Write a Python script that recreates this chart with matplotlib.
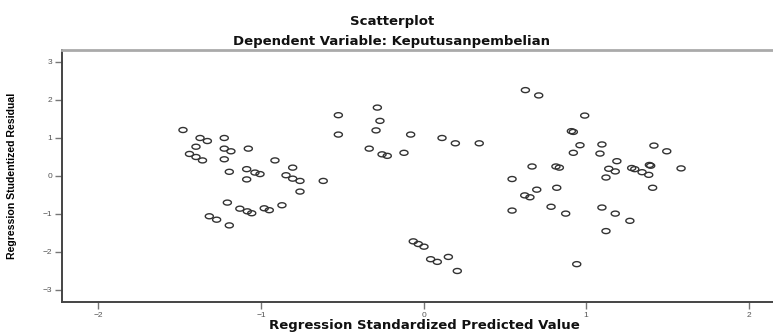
import numpy as np
import matplotlib.pyplot as plt

plt.rcParams['font.family'] = ['Liberation Sans', 'DejaVu Sans']

# predicted value (x) and studentized residual (y)
pred = [-1.48, -1.375, -1.33, -1.226, -1.40, -1.226, -1.185, -1.078, -1.44, -1.40,
        -1.36, -1.226, -0.914, -1.195, -1.088, -1.037, -1.006, -0.805, -0.846, -0.805,
        -0.76, -0.617, -1.088, -0.76, -0.524, -0.524,
        -1.207, -1.13, -1.084, -1.057, -0.98, -0.949, -0.871, -1.318, -1.273, -1.195,
        -0.284, -0.268, -0.292, -0.079, 0.114, 0.196, 0.343, -0.334, -0.255, -0.223, -0.12,
        -0.063, -0.032, 0.003, 0.044, 0.085, 0.153, 0.208,
        0.627, 0.709, 0.992, 0.922, 0.91, 0.963, 1.098, 1.418, 1.497, 0.922,
        1.086, 1.19, 0.668, 0.815, 0.836, 1.14, 1.18, 1.123, 1.281, 1.30,
        1.345, 1.39, 1.398, 1.386, 1.41, 1.585, 0.545, 0.697, 0.82, 0.623,
        0.655, 0.545, 0.785, 0.875, 1.098, 1.18, 1.27, 1.123, 0.943]
resid = [1.21, 1.0, 0.92, 1.0, 0.77, 0.72, 0.65, 0.72, 0.58, 0.50,
         0.41, 0.44, 0.41, 0.11, 0.18, 0.09, 0.05, 0.22, 0.02, -0.07,
         -0.13, -0.13, -0.09, -0.41, 1.6, 1.09,
         -0.70, -0.86, -0.93, -0.98, -0.85, -0.90, -0.77, -1.06, -1.15, -1.30,
         1.80, 1.45, 1.20, 1.09, 1.0, 0.86, 0.86, 0.72, 0.57, 0.53, 0.61,
         -1.72, -1.79, -1.86, -2.19, -2.26, -2.13, -2.50,
         2.26, 2.12, 1.59, 1.16, 1.18, 0.81, 0.83, 0.80, 0.65, 0.61,
         0.59, 0.39, 0.25, 0.25, 0.22, 0.19, 0.12, -0.04, 0.21, 0.18,
         0.10, 0.29, 0.27, 0.03, -0.31, 0.20, -0.08, -0.36, -0.31, -0.51,
         -0.56, -0.91, -0.81, -0.99, -0.83, -0.99, -1.18, -1.45, -2.32]

xticks = [-2, -1, 0, 1, 2]
yticks = [-3, -2, -1, 0, 1, 2, 3]

# flattened ring, the source image is squashed vertically
t = np.linspace(0, 2*np.pi, 40)
ring = np.column_stack([np.cos(t), 0.62*np.sin(t)])

fig = plt.figure(figsize=(7.73, 3.33), dpi=100)
ax = fig.add_axes([0.0802, 0.0931, 0.9224, 0.7568])

ax.scatter(pred, resid, marker=ring, s=34, facecolors='none',
           edgecolors='#333333', linewidths=1.0)

ax.set_xlim(-2.2246, 2.163)
ax.set_ylim(-3.316, 3.316)
ax.set_xticks(xticks)
ax.set_yticks(yticks)
ax.tick_params(length=5, width=1, color='#777777', labelsize=6, labelcolor='#555555', pad=2)

for s in ['left', 'bottom']:
    ax.spines[s].set_color('#444444')
    ax.spines[s].set_linewidth(1.4)
ax.spines['top'].set_color('#aaaaaa')
ax.spines['top'].set_linewidth(2)
ax.spines['right'].set_visible(False)

wide = ['DejaVu Sans']
fig.text(0.507, 0.934, 'Scatterplot', ha='center', va='center',
         fontsize=9.5, fontweight='bold', family=wide, color='#111111')
fig.text(0.507, 0.874, 'Dependent Variable: Keputusanpembelian', ha='center', va='center',
         fontsize=9.5, fontweight='bold', family=wide, color='#111111')
fig.text(0.549, 0.022, 'Regression Standardized Predicted Value', ha='center', va='center',
         fontsize=9.5, fontweight='bold', family=wide, color='#111111')
fig.text(0.016, 0.472, 'Regression Studentized Residual', ha='center', va='center',
         rotation=90, fontsize=7.6, fontweight='bold')

fig.savefig('out.png', dpi=100)
